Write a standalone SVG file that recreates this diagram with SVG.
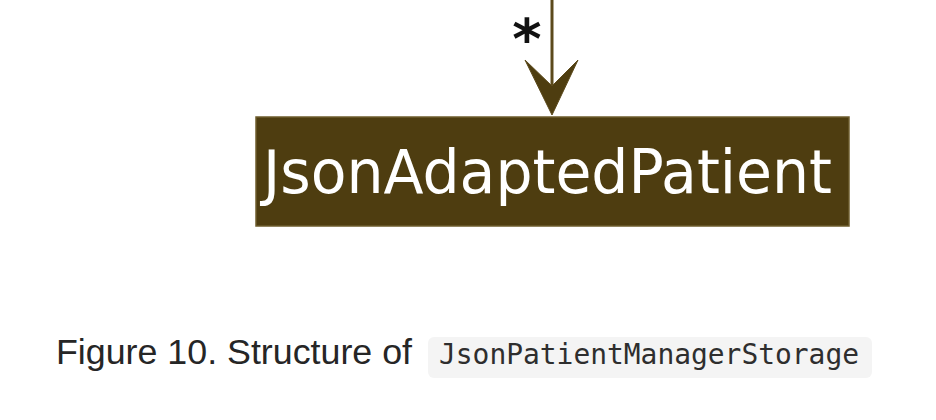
<svg xmlns="http://www.w3.org/2000/svg" width="936" height="420" viewBox="0 0 936 420">
<style>
.cls{fill:#4e3d10;stroke:#6d5c2c;stroke-width:1.5}
.clsname{font-family:"DejaVu Sans",sans-serif;font-size:60px;fill:#ffffff}
.edge{stroke:#5c4a1c;stroke-width:3;fill:none}
.head{fill:#4e3d10;stroke:#5c4a1c;stroke-width:1}
.mult{font-family:"DejaVu Sans",sans-serif;font-weight:bold;font-size:56px;fill:#111111}
.cap{font-family:"Liberation Sans",Arial,sans-serif;font-size:35px;fill:#262626}
.code{font-family:"DejaVu Sans Mono",monospace;font-size:28px;fill:#2e2e2e}
</style>
<rect width="936" height="420" fill="#ffffff"/>
<g id="connectors">
<line class="edge" x1="552" y1="0" x2="552" y2="100"/>
<polygon class="head" points="525,60 552,115 578,60 552,86"/>
<text class="mult" x="527" y="58" text-anchor="middle">*</text>
</g>
<g id="JsonAdaptedPatient">
<rect class="cls" x="256" y="117" width="593" height="109"/>
<text class="clsname" x="263" y="193" textLength="569" lengthAdjust="spacingAndGlyphs">JsonAdaptedPatient</text>
</g>
<g id="caption">
<text class="cap" x="56" y="364" textLength="356" lengthAdjust="spacingAndGlyphs">Figure 10. Structure of</text>
<rect x="428" y="337" width="444" height="41" rx="6" fill="#f4f4f4"/>
<text class="code" x="439" y="364" textLength="420" lengthAdjust="spacingAndGlyphs">JsonPatientManagerStorage</text>
</g>
</svg>
